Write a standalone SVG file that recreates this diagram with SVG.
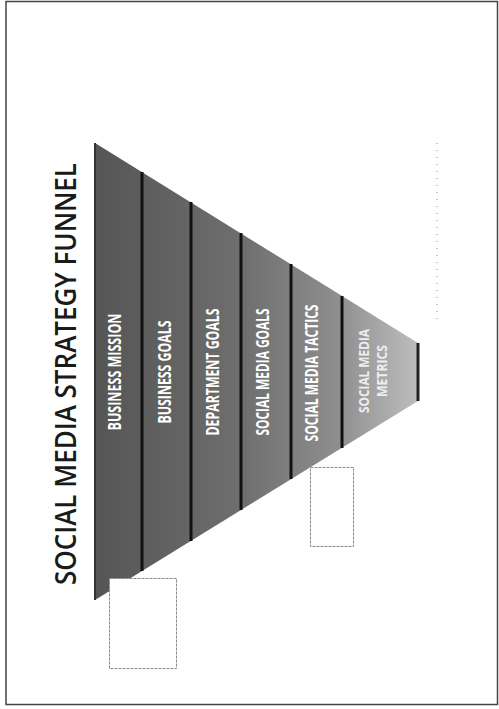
<svg xmlns="http://www.w3.org/2000/svg" width="499" height="709" viewBox="0 0 499 709">
  <style>
    .band-label { font-family: "Open Sans", "DejaVu Sans Condensed", sans-serif; font-weight: 700; font-size: 17px; fill: #ffffff; text-anchor: middle; }
    .title { font-family: "Open Sans", "DejaVu Sans", sans-serif; font-weight: 600; font-size: 28px; fill: #1a1a1a; text-anchor: middle; }
    .sep { stroke: #111; stroke-width: 3; }
    .box { fill: #ffffff; stroke: #8a8a8a; stroke-width: 1; stroke-dasharray: 3 1; }
  </style>
  <defs>
    <linearGradient id="funnelGrad" x1="95" y1="0" x2="418" y2="0" gradientUnits="userSpaceOnUse">
      <stop offset="0" stop-color="#555555"/>
      <stop offset="0.45" stop-color="#6e6e6e"/>
      <stop offset="0.75" stop-color="#8e8e8e"/>
      <stop offset="1" stop-color="#bdbdbd"/>
    </linearGradient>
  </defs>
  <rect x="0" y="0" width="499" height="709" fill="#ffffff"/>
  <rect x="6" y="1.5" width="491.5" height="703" fill="none" stroke="#444" stroke-width="1.5"/>

  <g id="title">
    <text class="title" transform="translate(76,374) rotate(-90)" x="0" y="0" textLength="422" lengthAdjust="spacingAndGlyphs">SOCIAL MEDIA STRATEGY FUNNEL</text>
  </g>

  <g id="funnel">
    <polygon points="95,143 418,343 418,401 95,600" fill="url(#funnelGrad)"/>
    <line x1="95" y1="143" x2="95" y2="600" stroke="#333" stroke-width="2"/>
    <line x1="418" y1="343" x2="418" y2="401" stroke="#222" stroke-width="3"/>
  </g>

  <g id="connectors">
    <line class="sep" x1="142" y1="172" x2="142" y2="571"/>
    <line class="sep" x1="191" y1="202" x2="191" y2="541"/>
    <line class="sep" x1="241" y1="233" x2="241" y2="510"/>
    <line class="sep" x1="291" y1="264" x2="291" y2="479"/>
    <line class="sep" x1="342" y1="296" x2="342" y2="448"/>
  </g>

  <g id="band-business-mission">
    <text class="band-label" transform="translate(115,372) rotate(-90)" x="0" y="6" textLength="117" lengthAdjust="spacingAndGlyphs">BUSINESS MISSION</text>
  </g>
  <g id="band-business-goals">
    <text class="band-label" transform="translate(165,372) rotate(-90)" x="0" y="6" textLength="103" lengthAdjust="spacingAndGlyphs">BUSINESS GOALS</text>
  </g>
  <g id="band-department-goals">
    <text class="band-label" transform="translate(213,372) rotate(-90)" x="0" y="6" textLength="127" lengthAdjust="spacingAndGlyphs">DEPARTMENT GOALS</text>
  </g>
  <g id="band-social-media-goals">
    <text class="band-label" transform="translate(263,372) rotate(-90)" x="0" y="6" textLength="127" lengthAdjust="spacingAndGlyphs">SOCIAL MEDIA GOALS</text>
  </g>
  <g id="band-social-media-tactics">
    <text class="band-label" transform="translate(312,373) rotate(-90)" x="0" y="6" textLength="137" lengthAdjust="spacingAndGlyphs">SOCIAL MEDIA TACTICS</text>
  </g>
  <g id="band-social-media-metrics">
    <text class="band-label" style="font-size:14px; fill:#eeeeee" transform="translate(364,371) rotate(-90)" x="0" y="5" textLength="84" lengthAdjust="spacingAndGlyphs">SOCIAL MEDIA</text>
    <text class="band-label" style="font-size:14px; fill:#eeeeee" transform="translate(382,371) rotate(-90)" x="0" y="5" textLength="52" lengthAdjust="spacingAndGlyphs">METRICS</text>
  </g>

  <g id="dotted-mark">
    <line x1="437" y1="143" x2="437" y2="325" stroke="#8a8a8a" stroke-width="1" stroke-dasharray="1 6"/>
  </g>

  <g id="box-1">
    <rect class="box" x="109.5" y="578.5" width="67" height="90"/>
  </g>
  <g id="box-2">
    <rect class="box" x="310.5" y="467.5" width="43" height="79"/>
  </g>
</svg>
